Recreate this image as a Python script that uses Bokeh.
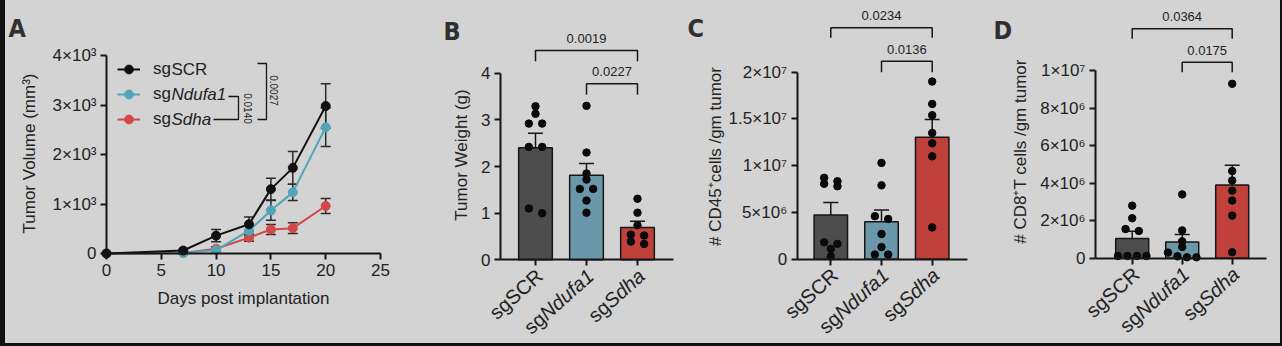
import numpy as np
from math import pi, cos, sin, radians
from bokeh.plotting import figure
from bokeh.layouts import row, column
from bokeh.models import (ColumnDataSource, Whisker, TeeHead, Label, Legend,
                          LegendItem, FixedTicker, Range1d, Spacer)
from bokeh.embed import file_html
from bokeh.resources import INLINE

# ---------------- data ----------------
groups = ["sgSCR", "sgNdufa1", "sgSdha"]
group_prefix = ["sg", "sg", "sg"]
group_gene = ["SCR", "Ndufa1", "Sdha"]

days = [0, 7, 10, 13, 15, 17, 20]
vol_scr = [0, 60, 360, 590, 1300, 1730, 2980]
vol_scr_sem = [0, 20, 125, 145, 220, 330, 450]
vol_ndufa1 = [0, 10, 70, 460, 870, 1235, 2550]
vol_ndufa1_sem = [0, 10, 30, 90, 200, 165, 390]
vol_sdha = [0, 10, 95, 320, 485, 512, 960]
vol_sdha_sem = [0, 10, 40, 70, 100, 108, 150]
vol_ticks = [0, 1000, 2000, 3000, 4000]
vol_tick_labels = ["0", "1×10³", "2×10³", "3×10³", "4×10³"]
day_ticks = [0, 5, 10, 15, 20, 25]
vol_pvalues = ["0.0140", "0.0027"]

weight_scr = [3.29, 3.13, 2.92, 2.92, 2.42, 2.42, 1.10, 1.00]
weight_ndufa1 = [3.30, 2.30, 1.85, 1.72, 1.52, 1.52, 1.27, 1.01]
weight_sdha = [1.31, 1.01, 0.74, 0.54, 0.52, 0.39, 0.34]
weight_ticks = [0, 1, 2, 3, 4]
weight_tick_labels = ["0", "1", "2", "3", "4"]
weight_pvalues = ["0.0019", "0.0227"]

cd45_scr = [8.7e6, 8.34e6, 8.06e6, 7.8e6, 1.82e6, 1.64e6, 1.1e6, 0.29e6]
cd45_ndufa1 = [10.3e6, 7.9e6, 4.6e6, 4.3e6, 2.7e6, 1.3e6, 0.5e6, 0.5e6]
cd45_sdha = [19.0e6, 16.6e6, 15.4e6, 13.5e6, 12.4e6, 11.0e6, 3.4e6]
cd45_ticks = [0, 5000000, 10000000, 15000000, 20000000]
cd45_tick_labels = ["0", "5×10⁶", "1×10⁷", "1.5×10⁷", "2×10⁷"]
cd45_pvalues = ["0.0234", "0.0136"]

cd8_scr = [2.8e6, 2.13e6, 1.55e6, 1.45e6, 0.12e6, 0.12e6, 0.12e6, 0.12e6]
cd8_ndufa1 = [3.4e6, 1.48e6, 0.9e6, 0.6e6, 0.3e6, 0.1e6, 0.05e6, 0.05e6]
cd8_sdha = [9.29e6, 4.64e6, 4.14e6, 3.6e6, 3.07e6, 2.27e6, 0.32e6]
cd8_ticks = [0, 2000000, 4000000, 6000000, 8000000, 10000000]
cd8_tick_labels = ["0", "2×10⁶", "4×10⁶", "6×10⁶", "8×10⁶", "1×10⁷"]
cd8_pvalues = ["0.0364", "0.0175"]

# ---------------- style ----------------
BG = "#d3d3d3"
FRAME = "#121212"
INK = "#161616"
TXT = "#222222"
FONT = "Liberation Sans"
LETTER_FONT = "Liberation Sans Narrow, DejaVu Sans Condensed, Liberation Sans"
LINE_COLORS = ["#111111", "#4fa6b8", "#d24747"]
BAR_COLORS = ["#4d4d4d", "#6b97ab", "#c0413c"]
H = 343

EM = {"s": .5, "g": .556, "S": .667, "C": .722, "R": .722, "N": .722, "d": .556,
      "u": .556, "f": .278, "a": .556, "1": .556, "h": .556}


def text_w(s, F):
    return sum(EM.get(ch, 0.556) for ch in s) * F


def make_fig(page_left, width, xa, ya):
    """Frame covers the whole figure; xa/ya map data values to page pixels."""
    dx0, px0, dx1, px1 = xa
    ppx = (px1 - px0) / (dx1 - dx0)
    dy0, py0, dy1, py1 = ya
    ppy = (py0 - py1) / (dy1 - dy0)
    L, R, T, B = page_left, page_left + width, 0, H
    xr = Range1d(dx0 + (L - px0) / ppx, dx0 + (R - px0) / ppx)
    yr = Range1d(dy0 - (B - py0) / ppy, dy0 + (py0 - T) / ppy)
    p = figure(width=width, height=H, x_range=xr, y_range=yr,
               output_backend="svg", toolbar_location=None,
               min_border=0, min_border_left=0, min_border_right=0,
               min_border_top=0, min_border_bottom=0)
    p.background_fill_color = BG
    p.border_fill_color = BG
    p.outline_line_color = None
    p.grid.visible = False
    for ax in p.axis:
        ax.axis_line_width = 2
        ax.axis_line_color = INK
        ax.major_tick_line_width = 2
        ax.major_tick_line_color = INK
        ax.major_tick_out = 6
        ax.major_tick_in = 0
        ax.minor_tick_line_color = None
        ax.major_label_text_font = FONT
        ax.major_label_text_font_size = "17px"
        ax.major_label_text_color = TXT
        ax.major_label_standoff = 4

    def X(px):
        return dx0 + (px - px0) / ppx

    def Y(py):
        return dy0 + (py0 - py) / ppy
    return p, X, Y, ppx, ppy


def add_text(p, x, y, text, size, angle=0.0, align="center", baseline="middle",
             style="normal", font=FONT, color=TXT, xo=0, yo=0):
    p.add_layout(Label(x=x, y=y, text=text, angle=angle, text_font=font,
                       text_font_size=f"{size}px", text_font_style=style,
                       text_color=color, text_align=align, text_baseline=baseline,
                       x_offset=xo, y_offset=yo))


def swarm_offsets(vals, ppy, row_px=5.0):
    order = sorted(range(len(vals)), key=lambda i: -vals[i])
    rows = []
    for i in order:
        if rows and (vals[rows[-1][0]] - vals[i]) * ppy < row_px:
            rows[-1].append(i)
        else:
            rows.append([i])
    off = [0.0] * len(vals)
    for r in rows:
        n = len(r)
        step = 13.3 if n == 2 else 9.5
        for k, i in enumerate(r):
            off[i] = (k - (n - 1) / 2) * step
    return off


def cat_labels(p, F=20, ang=radians(42), dx=4, dy=-13):
    for k in range(3):
        c = k + 1
        pre, gene = group_prefix[k], group_gene[k]
        if gene == "SCR":
            add_text(p, c, 0, pre + gene, F, angle=ang, align="right", xo=dx, yo=dy)
        else:
            w = text_w(gene, F)
            add_text(p, c, 0, gene, F, angle=ang, align="right", style="italic", xo=dx, yo=dy)
            add_text(p, c, 0, pre, F, angle=ang, align="right",
                     xo=dx - w * cos(ang), yo=dy - w * sin(ang))


def bar_panel(page_left, width, axis_px, xa, ya, series, ticks, tick_labels,
              pvals, bracket_px, title, title_xy, letter, letter_xy):
    p, X, Y, ppx, ppy = make_fig(page_left, width, xa, ya)
    cats = [1, 2, 3]
    means = [float(np.mean(v)) for v in series]
    sems = [float(np.std(v, ddof=1) / np.sqrt(len(v))) for v in series]
    p.vbar(x=cats, top=means, width=0.66, fill_color=BAR_COLORS,
           line_color=INK, line_width=1.5)
    xs, ys = [], []
    for c, vals in zip(cats, series):
        off = swarm_offsets(vals, ppy)
        xs += [c + o / ppx for o in off]
        ys += list(vals)
    p.scatter(x=xs, y=ys, size=7.5, fill_color="#0a0a0a", line_color="#0a0a0a")
    wsrc = ColumnDataSource(dict(x=cats, lo=[m - s for m, s in zip(means, sems)],
                                 hi=[m + s for m, s in zip(means, sems)]))
    p.add_layout(Whisker(source=wsrc, base="x", lower="lo", upper="hi",
                         line_color=INK, line_width=1.5,
                         upper_head=TeeHead(size=15, line_color=INK, line_width=1.5),
                         lower_head=TeeHead(size=15, line_color=INK, line_width=1.5)))
    # axes drawn at fixed data locations inside the full-size frame
    x_left, x_right = X(axis_px[0]), X(axis_px[1])
    p.xaxis.ticker = FixedTicker(ticks=cats)
    p.xaxis.major_label_overrides = {c: "" for c in cats}
    p.xaxis.fixed_location = 0
    p.xaxis.bounds = (x_left, x_right)
    p.yaxis.ticker = FixedTicker(ticks=ticks)
    p.yaxis.major_label_overrides = dict(zip(ticks, tick_labels))
    p.yaxis.bounds = (ticks[0], ticks[-1])
    p.yaxis.fixed_location = x_left
    cat_labels(p)
    # significance brackets
    pairs = [(1, 3), (2, 3)]
    bx, by = [], []
    for (a, b), (line_py, end_py) in zip(pairs, bracket_px):
        bx.append([a, a, b, b])
        by.append([Y(end_py), Y(line_py), Y(line_py), Y(end_py)])
    p.multi_line(xs=bx, ys=by, line_color=INK, line_width=1.5)
    for (a, b), (line_py, end_py), t in zip(pairs, bracket_px, pvals):
        add_text(p, (a + b) / 2, Y(line_py), t, 13, yo=12)
    # titles
    add_text(p, X(title_xy[0]), Y(title_xy[1]), title, 17, angle=pi / 2)
    add_text(p, X(letter_xy[0]), Y(letter_xy[1]), letter, 25, align="left",
             baseline="alphabetic", style="bold", font=LETTER_FONT, color="#303030")
    return p


# ---------------- panel A ----------------
pA, XA, YA, ppxA, ppyA = make_fig(5, 395, (0, 106, 25, 380), (0, 253, 4000, 55))
pA.xaxis.ticker = FixedTicker(ticks=day_ticks)
pA.xaxis.bounds = (day_ticks[0], day_ticks[-1])
pA.xaxis.fixed_location = 0
pA.yaxis.ticker = FixedTicker(ticks=vol_ticks)
pA.yaxis.major_label_overrides = dict(zip(vol_ticks, vol_tick_labels))
pA.yaxis.bounds = (vol_ticks[0], vol_ticks[-1])
pA.yaxis.fixed_location = 0

series_A = [(vol_scr, vol_scr_sem), (vol_ndufa1, vol_ndufa1_sem), (vol_sdha, vol_sdha_sem)]
legend_renderers = {}
for k in [2, 1, 0]:
    vals, sem = series_A[k]
    col = LINE_COLORS[k]
    keep = [i for i in range(len(days)) if sem[i] > 0]
    wsrc = ColumnDataSource(dict(x=[days[i] for i in keep],
                                 lo=[vals[i] - sem[i] for i in keep],
                                 hi=[vals[i] + sem[i] for i in keep]))
    pA.add_layout(Whisker(source=wsrc, base="x", lower="lo", upper="hi",
                          line_color="#2a2a2a", line_width=1.5, level="underlay",
                          upper_head=TeeHead(size=10, line_color="#2a2a2a", line_width=1.5),
                          lower_head=TeeHead(size=10, line_color="#2a2a2a", line_width=1.5)))
    src = ColumnDataSource(dict(x=days, y=vals))
    l = pA.line("x", "y", source=src, line_color=col, line_width=2)
    s = pA.scatter("x", "y", source=src, size=9, fill_color=col, line_color=col)
    legend_renderers[k] = [l, s]

# legend: glyphs + "sg" prefix from the Legend, gene names (italic where needed) as labels
LEG_FS = 17
legend = Legend(items=[LegendItem(label=group_prefix[k], renderers=legend_renderers[k]) for k in range(3)],
                location=(112, 213), orientation="vertical", glyph_width=23, glyph_height=22,
                label_height=22, spacing=3, padding=0, margin=0, label_standoff=13,
                label_text_font=FONT, label_text_font_size=f"{LEG_FS}px", label_text_color=TXT,
                border_line_color=None, background_fill_alpha=0)
pA.add_layout(legend)
leg_text_x = 5 + 112 + 23 + 13 + text_w("sg", LEG_FS)
leg_row_y = [69, 94, 119]
for k in range(3):
    add_text(pA, XA(leg_text_x), YA(leg_row_y[k]), group_gene[k], LEG_FS, align="left",
             style="normal" if group_gene[k] == "SCR" else "italic")

brA = [[(228, 96), (238, 96), (238, 119), (213, 119)],
       [(257, 63), (266, 63), (266, 119), (257, 119)]]
pA.multi_line(xs=[[XA(x) for x, y in b] for b in brA], ys=[[YA(y) for x, y in b] for b in brA],
              line_color=INK, line_width=1.3)
add_text(pA, XA(247), YA(108), vol_pvalues[0], 10, angle=-pi / 2)
add_text(pA, XA(273), YA(90), vol_pvalues[1], 10, angle=-pi / 2)
add_text(pA, XA(29), YA(153), "Tumor Volume (mm³)", 17, angle=pi / 2)
add_text(pA, XA(243), YA(298), "Days post implantation", 17)
add_text(pA, XA(8), YA(28), "A", 25, align="left", baseline="alphabetic", style="bold",
         font=LETTER_FONT, color="#303030")

# ---------------- panels B, C, D ----------------
pB = bar_panel(400, 280, (500, 673), (1, 535, 3, 637), (0, 259.3, 4, 72.7),
               [weight_scr, weight_ndufa1, weight_sdha], weight_ticks, weight_tick_labels,
               weight_pvalues, [(50, 60.7), (83.3, 94.3)], "Tumor Weight (g)", (461, 154.5),
               "B", (443, 31))
pC = bar_panel(680, 300, (796.7, 966.7), (1, 830.3, 3, 931.7), (0, 258.7, 2e7, 71.7),
               [cd45_scr, cd45_ndufa1, cd45_sdha], cd45_ticks, cd45_tick_labels,
               cd45_pvalues, [(27.3, 37.3), (60.7, 71.7)], "# CD45⁺cells /gm tumor", (714.5, 156),
               "C", (687, 28))
pD = bar_panel(980, 300, (1095, 1266), (1, 1131.7, 3, 1231.7), (0, 257.7, 1e7, 70),
               [cd8_scr, cd8_ndufa1, cd8_sdha], cd8_ticks, cd8_tick_labels,
               cd8_pvalues, [(28.3, 38.3), (61.7, 71.7)], "# CD8⁺T cells /gm tumor", (1020, 151),
               "D", (993, 30))

figs = row(pA, pB, pC, pD, styles={"background-color": BG})
left_bar = Spacer(width=5, height=346, styles={"background-color": FRAME})
right_bar = Spacer(width=2, height=346, styles={"background-color": FRAME})
bottom_bar = Spacer(width=1275, height=3, styles={"background-color": FRAME})
lay = row(left_bar, column(figs, bottom_bar), right_bar, styles={"background-color": FRAME})

open("out.html", "w").write(file_html(lay, INLINE))
